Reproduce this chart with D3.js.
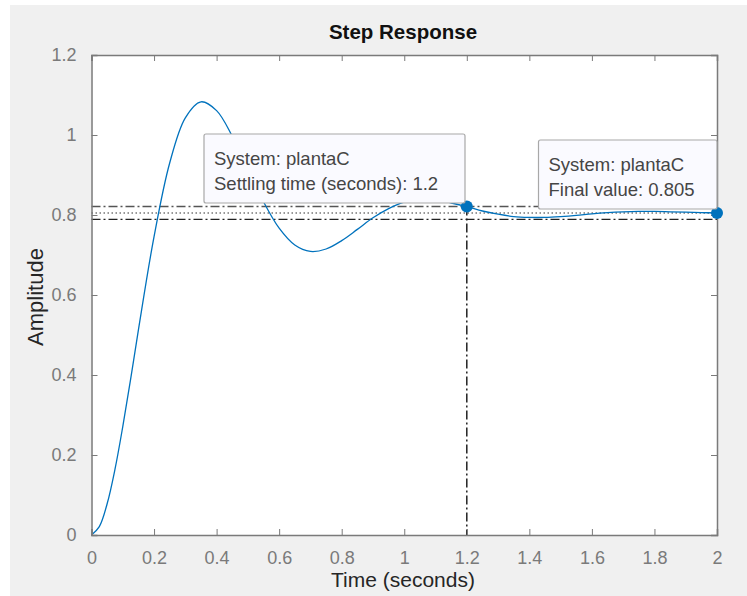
<!DOCTYPE html>
<html>
<head>
<meta charset="utf-8">
<script src="https://cdn.jsdelivr.net/npm/d3@7"></script>
<style>
  body { margin: 0; background: #fff; }
  text { font-family: "Liberation Sans", Arial, sans-serif; }
</style>
</head>
<body>
<svg id="chart"></svg>
<script>
// step response samples
const times = [0, 0.025, 0.05, 0.075, 0.1, 0.125, 0.15, 0.2, 0.25, 0.3, 0.35, 0.4, 0.45, 0.5, 0.55,
  0.6, 0.65, 0.7, 0.75, 0.8, 0.85, 0.9, 0.95, 1.0, 1.05, 1.1, 1.15, 1.2, 1.25, 1.3, 1.35, 1.4,
  1.45, 1.5, 1.55, 1.6, 1.65, 1.7, 1.75, 1.8, 1.85, 1.9, 1.95, 2.0];
const amplitude = [0, 0.021, 0.078, 0.164, 0.271, 0.389, 0.513, 0.746, 0.930, 1.043, 1.083,
  1.061, 0.997, 0.915, 0.833, 0.767, 0.725, 0.709, 0.715, 0.736, 0.764, 0.793, 0.816, 0.832,
  0.838, 0.837, 0.830, 0.821, 0.810, 0.802, 0.796, 0.794, 0.794, 0.796, 0.799, 0.803, 0.806,
  0.808, 0.809, 0.809, 0.808, 0.807, 0.806, 0.805];

const xTicks = [0, 0.2, 0.4, 0.6, 0.8, 1, 1.2, 1.4, 1.6, 1.8, 2];
const yTicks = [0, 0.2, 0.4, 0.6, 0.8, 1, 1.2];

const finalValue = 0.805;
const settleTime = 1.2;
const bandHigh = 0.821, bandLow = 0.789;

const tipSettle = ["System: plantaC", "Settling time (seconds): 1.2"];
const tipFinal = ["System: plantaC", "Final value: 0.805"];

const width = 747, height = 596;
const plotL = 91.5, plotR = 717, plotT = 55, plotB = 535;

const svg = d3.select("#chart").attr("width", width).attr("height", height);

// figure background
svg.append("rect").attr("x", 10).attr("y", 5).attr("width", width - 10).attr("height", height - 5)
  .attr("fill", "#f0f0f0");

const x = d3.scaleLinear().domain([0, 2]).range([plotL, plotR]);
const y = d3.scaleLinear().domain([0, 1.2]).range([plotB, plotT]);

svg.append("rect").attr("x", plotL).attr("y", plotT).attr("width", plotR - plotL).attr("height", plotB - plotT)
  .attr("fill", "#fff");

// reference lines
const g = svg.append("g");
const dashDot = "9,3,2,3";
g.append("line").attr("x1", x(0)).attr("x2", x(2)).attr("y1", y(bandHigh)).attr("y2", y(bandHigh))
  .attr("stroke", "#555").attr("stroke-width", 1.5).attr("stroke-dasharray", dashDot);
g.append("line").attr("x1", x(0)).attr("x2", x(2)).attr("y1", y(bandLow)).attr("y2", y(bandLow))
  .attr("stroke", "#222").attr("stroke-width", 1.2).attr("stroke-dasharray", dashDot);
g.append("line").attr("x1", x(0)).attr("x2", x(2)).attr("y1", y(finalValue)).attr("y2", y(finalValue))
  .attr("stroke", "#333").attr("stroke-width", 1.2).attr("stroke-dasharray", "1.5,2.5");
g.append("line").attr("x1", x(settleTime)).attr("x2", x(settleTime)).attr("y1", y(bandHigh)).attr("y2", y(0))
  .attr("stroke", "#222").attr("stroke-width", 1.5).attr("stroke-dasharray", dashDot);

// response curve
const pts = times.map((t, i) => [t, amplitude[i]]);
const line = d3.line().x(d => x(d[0])).y(d => y(d[1])).curve(d3.curveCatmullRom.alpha(0.5));
g.append("path").datum(pts).attr("d", line).attr("fill", "none")
  .attr("stroke", "#0072BD").attr("stroke-width", 1.3);

// axes with inward ticks on all four sides
const tickLen = 6;
const axisColor = "#7a7a7a";
const labelColor = "#7a7a7a";
const fmt = d => String(d);

const xb = svg.append("g").attr("transform", `translate(0,${plotB})`)
  .call(d3.axisBottom(x).tickValues(xTicks).tickSize(-tickLen).tickPadding(16).tickFormat(fmt));
const xt = svg.append("g").attr("transform", `translate(0,${plotT})`)
  .call(d3.axisTop(x).tickValues(xTicks).tickSize(-tickLen).tickFormat(""));
const yl = svg.append("g").attr("transform", `translate(${plotL},0)`)
  .call(d3.axisLeft(y).tickValues(yTicks).tickSize(-tickLen).tickPadding(15).tickFormat(fmt));
const yr = svg.append("g").attr("transform", `translate(${plotR},0)`)
  .call(d3.axisRight(y).tickValues(yTicks).tickSize(-tickLen).tickFormat(""));

[xb, xt, yl, yr].forEach(a => {
  a.select(".domain").attr("stroke", axisColor).attr("stroke-width", 1.5);
  a.selectAll(".tick line").attr("stroke", axisColor);
  a.selectAll(".tick text").attr("fill", labelColor).attr("font-size", 18)
    .attr("font-family", "Liberation Sans, Arial, sans-serif");
});

// markers
svg.append("circle").attr("cx", x(settleTime)).attr("cy", y(bandHigh)).attr("r", 6).attr("fill", "#0072BD");
svg.append("circle").attr("cx", x(2)).attr("cy", y(finalValue)).attr("r", 6).attr("fill", "#0072BD");

// data tips
function dataTip(bx, by, bw, bh, lines) {
  const tg = svg.append("g");
  tg.append("rect").attr("x", bx).attr("y", by).attr("width", bw).attr("height", bh)
    .attr("rx", 2).attr("fill", "#fafaff").attr("stroke", "#a8a8a8").attr("stroke-width", 1.2);
  tg.selectAll("text").data(lines).join("text")
    .attr("x", bx + 10).attr("y", (d, i) => by + 31 + i * 25)
    .attr("font-size", 18.5).attr("fill", "#454545").text(d => d);
}
dataTip(204, 134, 261, 69, tipSettle);
dataTip(538.5, 140, 178.5, 69, tipFinal);

// titles
svg.append("text").attr("x", 403).attr("y", 39).attr("text-anchor", "middle")
  .attr("font-size", 20.5).attr("font-weight", "bold").attr("fill", "#111").text("Step Response");
svg.append("text").attr("x", 403).attr("y", 587).attr("text-anchor", "middle")
  .attr("font-size", 21).attr("fill", "#262626").text("Time (seconds)");
svg.append("text").attr("transform", "translate(43,297) rotate(-90)").attr("text-anchor", "middle")
  .attr("font-size", 22).attr("fill", "#262626").text("Amplitude");
</script>
</body>
</html>
